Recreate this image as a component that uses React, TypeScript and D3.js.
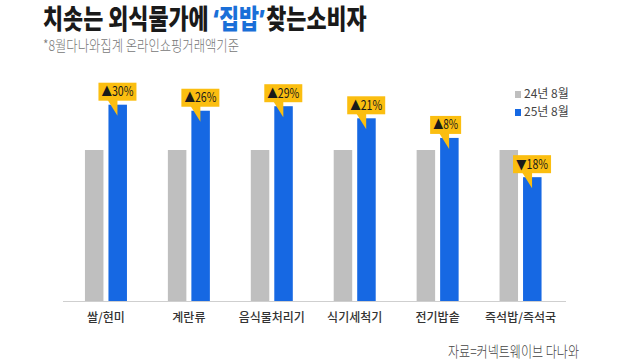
import React, { useLayoutEffect, useRef, useState } from "react";
import * as d3 from "d3";

const categories = ["쌀/현미", "계란류", "음식물처리기", "식기세척기", "전기밥솥", "즉석밥/즉석국"];
const prevValues = [100, 100, 100, 100, 100, 100];
const currValues = [130, 126, 129, 121, 108, 82];
const changeLabels = ["▲30%", "▲26%", "▲29%", "▲21%", "▲8%", "▼18%"];
const seriesNames = ["24년 8월", "25년 8월"];

const W = 620;
const H = 360;
const FONT = "'Noto Sans CJK KR', 'Noto Sans', sans-serif";
const GRAY = "#BFBFBF";
const BLUE = "#1668E3";
const YELLOW = "#FBBE10";

export default function App() {
  const baseY = 301;
  const x0 = d3.scaleBand<string>().domain(categories).range([64.5, 562]);
  const x1 = d3.scaleBand<string>().domain(["prev", "curr"]).range([-21, 21]).paddingInner(0.213);
  const y = d3.scaleLinear().domain([0, 100]).range([baseY, 150]);

  const titleRef = useRef<SVGTextElement>(null);
  const [sx, setSx] = useState(0.72);
  useLayoutEffect(() => {
    if (titleRef.current) {
      const w = titleRef.current.getBBox().width;
      if (w > 0) setSx(324 / w);
    }
  }, []);

  return (
    <svg width={W} height={H} style={{ position: "absolute", left: 0, top: 0, background: "#fff" }} fontFamily={FONT}>
      <rect x={0} y={0} width={W} height={H} fill="#fff" />
      {/* Title */}
      <g transform={`translate(43, 29) scale(${sx}, 1)`}>
        <text ref={titleRef} x={0} y={0} fontSize={27} fontWeight={900} fill="#1a1a1a">
          치솟는 외식물가에
          <tspan fill="#1A6FD8" fontFamily="'Noto Sans', sans-serif" dx={6}>‘</tspan>
          <tspan fill="#1A6FD8">집밥</tspan>
          <tspan fill="#1A6FD8" fontFamily="'Noto Sans', sans-serif">’</tspan>
          <tspan dx={2}>찾는소비자</tspan>
        </text>
      </g>
      <text x={43} y={51} fontSize={15} fontWeight={300} fill="#777" textLength={196} lengthAdjust="spacingAndGlyphs">
        *8월다나와집계 온라인쇼핑거래액기준
      </text>

      {/* Bars */}
      {categories.map((c, i) => {
        const cx = (x0(c) as number) + x0.bandwidth() / 2;
        const gx = cx + (x1("prev") as number);
        const bx = cx + (x1("curr") as number);
        const bw = x1.bandwidth();
        const yp = y(prevValues[i]);
        const yc = y(currValues[i]);
        return (
          <g key={c}>
            <rect x={gx} y={yp} width={bw} height={baseY - yp} fill={GRAY} />
            <rect x={bx} y={yc} width={bw} height={baseY - yc} fill={BLUE} />
          </g>
        );
      })}

      {/* Axis line */}
      <line x1={63} x2={566} y1={baseY + 0.5} y2={baseY + 0.5} stroke="#cfcfcf" strokeWidth={1} />

      {/* Category labels */}
      {categories.map((c) => {
        const cx = (x0(c) as number) + x0.bandwidth() / 2;
        return (
          <text key={c} x={cx} y={322} fontSize={12} textAnchor="middle" fill="#333" fontWeight={500}>
            {c}
          </text>
        );
      })}

      {/* Callouts */}
      {categories.map((c, i) => {
        const cx = (x0(c) as number) + x0.bandwidth() / 2;
        const bx = cx + (x1("curr") as number);
        const yc = y(currValues[i]);
        const label = changeLabels[i];
        const w = label.length >= 4 ? 38 : 31;
        const h = 18;
        const left = bx - 10;
        const top = yc - 4 - h;
        const bottom = top + h;
        return (
          <g key={"c" + c}>
            <path
              d={`M${left + 9},${bottom - 1} L${left + 19},${bottom - 1} L${left + 19},${bottom + 15} Z`}
              fill={YELLOW}
            />
            <rect x={left} y={top} width={w} height={h} fill={YELLOW} />
            <text
              x={left + 3}
              y={top + 13.5}
              fontSize={13}
              fill="#1a1a1a"
              textLength={w - 6}
              lengthAdjust="spacingAndGlyphs"
            >
              {label}
            </text>
          </g>
        );
      })}

      {/* Legend */}
      {seriesNames.map((s, i) => (
        <g key={s} transform={`translate(515, ${91 + i * 18})`}>
          <rect x={0} y={0} width={6} height={7} fill={i === 0 ? GRAY : BLUE} />
          <text x={9} y={7} fontSize={12} fill="#444">
            {s}
          </text>
        </g>
      ))}

      {/* Source */}
      <text x={448} y={357} fontSize={15} fontWeight={300} fill="#444" textLength={131} lengthAdjust="spacingAndGlyphs">
        자료=커넥트웨이브 다나와
      </text>
    </svg>
  );
}
